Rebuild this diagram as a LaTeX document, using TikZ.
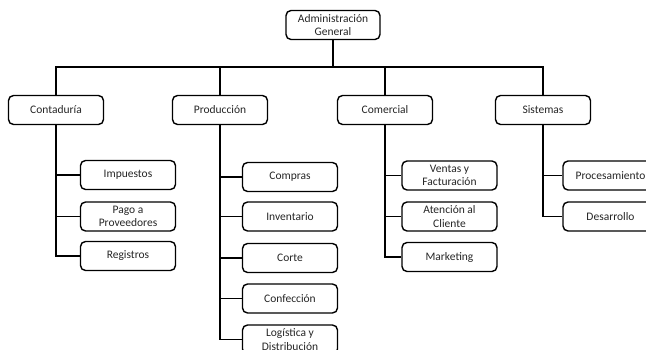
\documentclass[tikz,border=0pt]{standalone}
\usepackage{fontspec}
\setmainfont{Carlito}
\begin{document}
\begin{tikzpicture}[x=1pt,y=-1pt,
  box/.style={draw=black, line width=1.4pt, rounded corners=5pt, fill=white,
    minimum width=95pt, minimum height=29pt, inner sep=1pt, align=center,
    font=\fontsize{11.5}{13.5}\selectfont, text=black!85},
  conn/.style={draw=black, line width=1.8pt}]
\path[use as bounding box] (0,0) rectangle (646,349);
\clip (0,0) rectangle (646,349);
\fill[white] (0,0) rectangle (646,349);
\coordinate (bus) at (333,67);
% level 0 / 1
\node[box, minimum width=94pt] (adm) at (333,25) {Administración\\General};
\node[box] (cont) at (56,110) {Contaduría};
\node[box] (prod) at (220,110) {Producción};
\node[box] (com) at (385,110) {Comercial};
\node[box] (sis) at (543,110) {Sistemas};
% Contaduría children
\node[box] (imp) at (128,175) {Impuestos};
\node[box] (pago) at (128,216.5) {Pago a\\Proveedores};
\node[box] (reg) at (128,256) {Registros};
% Producción children
\node[box] (compras) at (290,177) {Compras};
\node[box] (inv) at (290,216.5) {Inventario};
\node[box] (corte) at (290,258) {Corte};
\node[box] (conf) at (290,298.5) {Confección};
\node[box] (log) at (290,339.5) {Logística y\\Distribución};
% Comercial children
\node[box] (ventas) at (449.5,175.5) {Ventas y\\Facturación};
\node[box] (aten) at (449.5,216.5) {Atención al\\Cliente};
\node[box] (mark) at (449.5,257) {Marketing};
% Sistemas children
\node[box] (proc) at (610.5,175.5) {Procesamiento};
\node[box] (des) at (610.5,216.5) {Desarrollo};
% connectors
\draw[conn] (adm.south) -- (adm.south |- bus);
\draw[conn] (cont.north) -- (cont.north |- bus) -- (sis.north |- bus) -- (sis.north);
\draw[conn] (prod.north) -- (prod.north |- bus);
\draw[conn] (com.north) -- (com.north |- bus);
\draw[conn] (cont.south) |- (reg.west);
\draw[conn] (cont.south |- imp.west) -- (imp.west);
\draw[conn] (cont.south |- pago.west) -- (pago.west);
\draw[conn] (prod.south) |- (log.west);
\draw[conn] (prod.south |- compras.west) -- (compras.west);
\draw[conn] (prod.south |- inv.west) -- (inv.west);
\draw[conn] (prod.south |- corte.west) -- (corte.west);
\draw[conn] (prod.south |- conf.west) -- (conf.west);
\draw[conn] (com.south) |- (mark.west);
\draw[conn] (com.south |- ventas.west) -- (ventas.west);
\draw[conn] (com.south |- aten.west) -- (aten.west);
\draw[conn] (sis.south) |- (des.west);
\draw[conn] (sis.south |- proc.west) -- (proc.west);
\end{tikzpicture}
\end{document}
